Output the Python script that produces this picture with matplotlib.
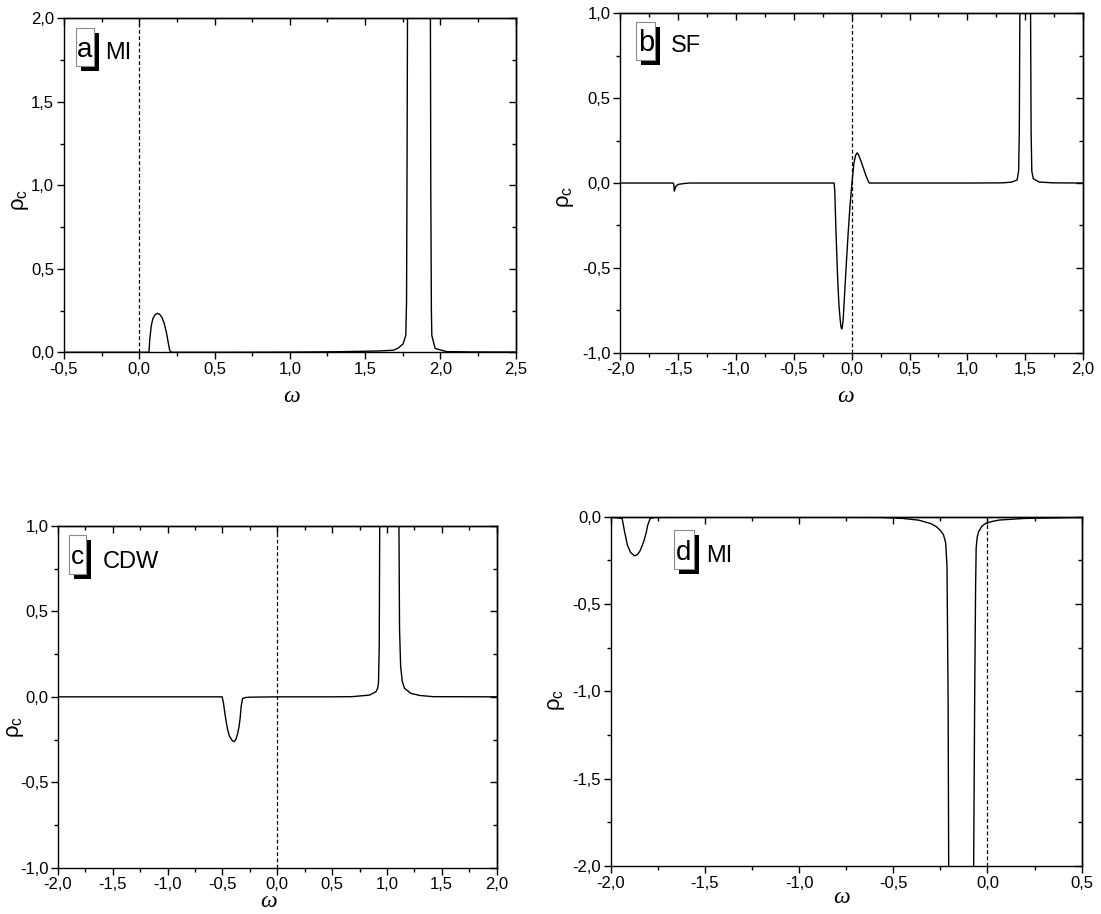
import matplotlib
matplotlib.use('Agg')
import matplotlib.pyplot as plt
from matplotlib.ticker import MultipleLocator, FuncFormatter
from matplotlib.patches import Rectangle

plt.rcParams['font.family'] = ['Liberation Sans', 'DejaVu Sans']
plt.rcParams['mathtext.fontset'] = 'custom'
plt.rcParams['mathtext.rm'] = 'Liberation Sans'
plt.rcParams['mathtext.it'] = 'Liberation Sans:italic'
plt.rcParams['mathtext.bf'] = 'Liberation Sans:bold'

# ---------------- data ----------------
omega_a = [-0.5, 0.0, 0.06, 0.065, 0.07, 0.08, 0.09, 0.105, 0.12, 0.135, 0.15, 0.165,
           0.18, 0.19, 0.2, 0.207, 0.22, 0.6, 1.0, 1.3, 1.5, 1.6, 1.686, 1.72, 1.752,
           1.77, 1.775, 1.778, 1.782, 1.86, 1.933, 1.936, 1.94, 1.943, 1.965, 2.04, 2.2, 2.5]
rho_a = [0, 0, 0, 0.005, 0.08, 0.16, 0.2, 0.225, 0.233, 0.228, 0.21, 0.175,
         0.12, 0.07, 0.02, 0.003, 0, 0, 0.001, 0.003, 0.006, 0.008, 0.012, 0.025, 0.05,
         0.1, 0.3, 1.0, 2.2, 30, 2.2, 1.0, 0.25, 0.1, 0.023, 0.004, 0.002, 0.001]

omega_b = [-2.0, -1.545, -1.538, -1.533, -1.52, -1.5, -1.45, -1.4, -0.152, -0.146, -0.135,
           -0.122, -0.11, -0.1, -0.093, -0.087, -0.081, -0.074, -0.06, -0.045, -0.03, -0.015,
           0.0, 0.008, 0.02, 0.035, 0.048, 0.06, 0.08, 0.1, 0.12, 0.14, 0.152, 1.0, 1.3,
           1.38, 1.43, 1.443, 1.449, 1.455, 1.5, 1.545, 1.551, 1.557, 1.57, 1.62, 1.74, 2.0]
rho_b = [0, 0, -0.005, -0.048, -0.02, -0.008, -0.003, 0, 0, -0.05, -0.3,
         -0.55, -0.72, -0.8, -0.845, -0.86, -0.85, -0.81, -0.64, -0.46, -0.29, -0.14,
         -0.02, 0.04, 0.12, 0.165, 0.178, 0.165, 0.13, 0.09, 0.05, 0.015, 0, 0, 0.001,
         0.005, 0.018, 0.07, 0.3, 1.2, 40, 1.2, 0.3, 0.07, 0.025, 0.006, 0.001, 0]

omega_c = [-2.0, -0.503, -0.49, -0.478, -0.465, -0.452, -0.435, -0.413, -0.397, -0.385,
           -0.375, -0.362, -0.349, -0.338, -0.33, -0.317, -0.29, -0.25, 0.0, 0.5, 0.68,
           0.84, 0.9, 0.915, 0.923, 0.93, 0.936, 1.02, 1.108, 1.115, 1.125, 1.14, 1.16,
           1.22, 1.3, 1.42, 2.0]
rho_c = [0, 0, -0.04, -0.097, -0.15, -0.195, -0.232, -0.254, -0.262, -0.256,
         -0.244, -0.215, -0.175, -0.12, -0.058, -0.01, -0.004, -0.002, 0, 0, 0.001,
         0.01, 0.03, 0.05, 0.08, 0.3, 1.3, 40, 1.2, 0.4, 0.18, 0.09, 0.05,
         0.02, 0.008, 0.001, 0]

omega_d = [-2.0, -1.94, -1.927, -1.912, -1.895, -1.875, -1.86, -1.847, -1.835, -1.823,
           -1.812, -1.804, -1.791, -1.763, -1.2, -0.57, -0.45, -0.364, -0.3, -0.27, -0.245,
           -0.233, -0.222, -0.215, -0.209, -0.205, -0.14, -0.075, -0.068, -0.063, -0.06,
           -0.055, -0.047, -0.03, -0.009, 0.03, 0.065, 0.196, 0.5]
rho_d = [-0.003, -0.01, -0.086, -0.163, -0.205, -0.224, -0.218, -0.2, -0.17, -0.134,
         -0.09, -0.048, -0.01, -0.004, -0.003, -0.004, -0.01, -0.02, -0.04, -0.058, -0.085,
         -0.105, -0.15, -0.278, -1.045, -2.3, -40, -2.3, -1.045, -0.4, -0.18,
         -0.12, -0.086, -0.055, -0.038, -0.026, -0.019, -0.01, -0.004]

panel_letters = ['a', 'b', 'c', 'd']
panel_phases = ['MI', 'SF', 'CDW', 'MI']
xlims = [(-0.5, 2.5), (-2.0, 2.0), (-2.0, 2.0), (-2.0, 0.5)]
ylims = [(0.0, 2.0), (-1.0, 1.0), (-1.0, 1.0), (-2.0, 0.0)]
xlabel = '\u03c9'
ylabel = r'$\mathrm{\rho_c}$'

# ---------------- layout ----------------
W, H = 1101, 914
fig = plt.figure(figsize=(W / 100, H / 100), dpi=100)

rects = [[0.0581, 0.6146, 0.4103, 0.3654],
         [0.5634, 0.6141, 0.4203, 0.3713],
         [0.0527, 0.0507, 0.3983, 0.3738],
         [0.5548, 0.0525, 0.4276, 0.3822]]
boxes = [(0.026, 0.857, 0.040, 0.113),
         (0.034, 0.862, 0.042, 0.113),
         (0.024, 0.860, 0.039, 0.114),
         (0.134, 0.849, 0.042, 0.113)]
letter_sizes = [20, 21, 19, 20]
phase_pos = [(0.091, 0.877), (0.110, 0.887), (0.103, 0.876), (0.203, 0.871)]
ylab_pos = [(-0.097, 0.456), (-0.118, 0.459), (-0.096, 0.413), (-0.116, 0.475)]
# omega label: baseline positions in axes fraction
xlab_pos = [(0.504, -0.150), (0.486, -0.146), (0.481, -0.114), (0.489, -0.105)]

data = [(omega_a, rho_a), (omega_b, rho_b), (omega_c, rho_c), (omega_d, rho_d)]


def comma_fmt(v, pos):
    if abs(v) < 1e-9:
        v = 0.0
    return f"{v:.1f}".replace('.', ',')


for i in range(4):
    ax = fig.add_axes(rects[i])
    x, y = data[i]
    ax.plot(x, y, color='black', lw=1.0)
    ax.axvline(0.0, color='black', lw=0.9, ls=(0, (3, 2)))
    ax.set_xlim(*xlims[i])
    ax.set_ylim(*ylims[i])
    for sp in ax.spines.values():
        sp.set_linewidth(1.0)
    for axis in (ax.xaxis, ax.yaxis):
        axis.set_major_locator(MultipleLocator(0.5))
        axis.set_minor_locator(MultipleLocator(0.25))
        axis.set_major_formatter(FuncFormatter(comma_fmt))
    ax.tick_params(which='both', direction='out', top=False, right=False,
                   labelsize=12, width=1.0, pad=2)
    ax.tick_params(which='major', length=5)
    ax.tick_params(which='minor', length=3)

    secx = ax.secondary_xaxis('top')
    secx.xaxis.set_major_locator(MultipleLocator(0.5))
    secx.xaxis.set_minor_locator(MultipleLocator(0.25))
    secx.tick_params(which='both', direction='in', labeltop=False, width=1.0)
    secx.tick_params(which='major', length=5)
    secx.tick_params(which='minor', length=3)
    secx.spines['top'].set_linewidth(1.0)
    secy = ax.secondary_yaxis('right')
    secy.yaxis.set_major_locator(MultipleLocator(0.5))
    secy.yaxis.set_minor_locator(MultipleLocator(0.25))
    secy.tick_params(which='both', direction='in', labelright=False, width=1.0)
    secy.tick_params(which='major', length=5)
    secy.tick_params(which='minor', length=3)
    secy.spines['right'].set_linewidth(1.0)

    # axis labels
    ax.text(*ylab_pos[i], ylabel, transform=ax.transAxes, rotation=90,
            ha='center', va='center', fontsize=16)
    ax.text(*xlab_pos[i], xlabel, transform=ax.transAxes, ha='center', va='baseline',
            fontsize=17, family='Liberation Serif', style='italic')

    # panel label box with drop shadow
    bx, by, bw, bh = boxes[i]
    dx = 5.0 / (rects[i][2] * W)
    dy = 5.0 / (rects[i][3] * H)
    ax.add_patch(Rectangle((bx + dx, by - dy), bw, bh, transform=ax.transAxes,
                           facecolor='black', edgecolor='black', lw=0, zorder=5,
                           clip_on=False))
    ax.add_patch(Rectangle((bx, by), bw, bh, transform=ax.transAxes,
                           facecolor='white', edgecolor='#8a8a8a', lw=0.8, zorder=6,
                           clip_on=False))
    ax.text(bx + bw / 2, by + bh * 0.25, panel_letters[i], transform=ax.transAxes,
            ha='center', va='baseline', fontsize=letter_sizes[i], zorder=7)
    ax.text(*phase_pos[i], panel_phases[i], transform=ax.transAxes,
            ha='left', va='baseline', fontsize=17, zorder=7)

fig.savefig('out.png', dpi=100)
